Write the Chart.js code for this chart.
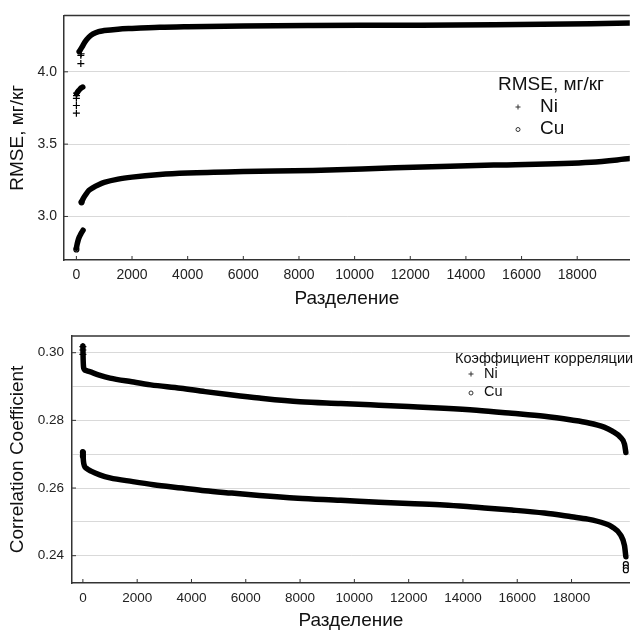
<!DOCTYPE html>
<html>
<head>
<meta charset="utf-8">
<script src="https://cdn.jsdelivr.net/npm/chart.js@4.4.1/dist/chart.umd.min.js"></script>
<style>
  html, body { margin: 0; padding: 0; background: #fff; }
  .panel { position: absolute; left: 0; width: 635px; }
</style>
</head>
<body>
<div class="panel" style="top:0;height:310px"><canvas id="rmseChart" width="635" height="310"></canvas></div>
<div class="panel" style="top:310px;height:323px"><canvas id="corrChart" width="635" height="323"></canvas></div>
<script>
// tick labels
const splitTicks = [0, 2000, 4000, 6000, 8000, 10000, 12000, 14000, 16000, 18000];
const rmseTicks = [3.0, 3.5, 4.0];
const corrTicks = [0.24, 0.25, 0.26, 0.27, 0.28, 0.29, 0.30];
const corrLabelled = [0.24, 0.26, 0.28, 0.30];

// RMSE, Ni
const niRmseLowX = [10, 40, 80, 130, 180, 230];
const niRmseLowY = [3.85, 3.86, 3.87, 3.88, 3.89, 3.895];
const niRmseX = [100, 200, 300, 450, 600, 800, 1000, 1500, 2000, 3000, 4000, 6000, 8500, 11450, 15000, 18500, 19900];
const niRmseY = [4.14, 4.17, 4.205, 4.24, 4.262, 4.278, 4.285, 4.295, 4.30, 4.308, 4.312, 4.317, 4.32, 4.322, 4.325, 4.332, 4.338];
const niRmseOutX = [0, 0, 0, 5, 5, 160, 160, 170];
const niRmseOutY = [3.714, 3.767, 3.817, 3.836, 3.852, 4.057, 4.114, 4.125];

// RMSE, Cu
const cuRmseLowX = [0, 30, 70, 110, 150, 190, 240];
const cuRmseLowY = [2.78, 2.81, 2.84, 2.86, 2.875, 2.89, 2.905];
const cuRmseX = [185, 250, 350, 450, 600, 800, 1000, 1500, 2000, 3000, 4000, 6000, 8500, 11450, 15000, 18500, 19900];
const cuRmseY = [3.10, 3.125, 3.155, 3.18, 3.20, 3.22, 3.235, 3.258, 3.272, 3.29, 3.30, 3.31, 3.318, 3.336, 3.355, 3.375, 3.40];
const cuRmseOutX = [0, 185];
const cuRmseOutY = [2.772, 3.098];

// correlation, Ni
const niCorrX = [0, 10, 30, 100, 250, 600, 1000, 1800, 2500, 3600, 4500, 5500, 6500, 8000, 9500, 10900, 12000, 13300, 14500, 15800, 17000, 18000, 18600, 19200, 19500, 19800, 19950, 20000];
const niCorrY = [0.302, 0.298, 0.2955, 0.2948, 0.2944, 0.2934, 0.2925, 0.2914, 0.2905, 0.2895, 0.2885, 0.2875, 0.2866, 0.2855, 0.285, 0.2845, 0.2841, 0.2836, 0.283, 0.2821, 0.2812, 0.2801, 0.2793, 0.278, 0.2768, 0.275, 0.273, 0.2705];
const niCorrOutX = [0, 0, 0];
const niCorrOutY = [0.3018, 0.3008, 0.2995];

// correlation, Cu
const cuCorrX = [0, 20, 60, 135, 300, 620, 1000, 1840, 2600, 3660, 4500, 5490, 6500, 7920, 9500, 10900, 12000, 13300, 14500, 15800, 17000, 18000, 18600, 19200, 19500, 19800, 19950, 20000];
const cuCorrY = [0.2707, 0.268, 0.2665, 0.2658, 0.265, 0.2639, 0.263, 0.2619, 0.261, 0.260, 0.2592, 0.2585, 0.2578, 0.257, 0.2564, 0.2558, 0.2554, 0.255, 0.2543, 0.2535, 0.2526, 0.2515, 0.2508, 0.2496, 0.2485, 0.2462, 0.243, 0.2397];
const cuCorrOutX = [0, 0, 20000, 20000, 20000];
const cuCorrOutY = [0.2705, 0.2695, 0.2375, 0.2365, 0.2357];

const FONT = '"Liberation Sans", Arial, sans-serif';
const pts = (xs, ys) => xs.map((x, i) => ({ x: x, y: ys[i] }));

const curve = (xs, ys) => ({
  data: pts(xs, ys),
  showLine: true,
  borderColor: '#000',
  borderWidth: 5.5,
  pointRadius: 0,
  cubicInterpolationMode: 'monotone',
  borderCapStyle: 'round',
  borderJoinStyle: 'round',
});

const marks = (xs, ys, style) => ({
  data: pts(xs, ys),
  showLine: false,
  pointStyle: style,
  pointRadius: style === 'cross' ? 3.5 : 2.5,
  borderColor: '#000',
  backgroundColor: '#fff',
  borderWidth: 1.2,
});

// top frame line, inward tick marks and the floating legend
const framePlugin = {
  id: 'frameLegend',
  afterDatasetsDraw(chart, args, opts) {
    const { ctx, chartArea: a, scales } = chart;
    ctx.save();
    ctx.strokeStyle = '#333';
    ctx.lineWidth = 1.5;
    ctx.beginPath();
    ctx.moveTo(a.left, a.top);
    ctx.lineTo(a.right, a.top);
    ctx.stroke();

    ctx.lineWidth = 1;
    ctx.beginPath();
    scales.x.ticks.forEach(t => {
      const px = scales.x.getPixelForValue(t.value);
      ctx.moveTo(px, a.bottom);
      ctx.lineTo(px, a.bottom - 4);
    });
    scales.y.ticks.forEach(t => {
      if (!t.label) return;
      const py = scales.y.getPixelForValue(t.value);
      ctx.moveTo(a.left, py);
      ctx.lineTo(a.left + 4, py);
    });
    ctx.stroke();

    // legend
    ctx.fillStyle = '#111';
    ctx.textBaseline = 'middle';
    ctx.textAlign = 'left';
    ctx.font = opts.titleSize + 'px ' + FONT;
    ctx.fillText(opts.title, opts.titleX, opts.titleY);
    ctx.font = opts.itemSize + 'px ' + FONT;
    opts.items.forEach((name, i) => {
      const y = opts.itemY + i * opts.itemGap;
      ctx.fillText(name, opts.textX, y);
      ctx.beginPath();
      ctx.lineWidth = 1;
      if (i === 0) {
        ctx.moveTo(opts.markX - 2.5, y); ctx.lineTo(opts.markX + 2.5, y);
        ctx.moveTo(opts.markX, y - 2.5); ctx.lineTo(opts.markX, y + 2.5);
      } else {
        ctx.arc(opts.markX, y + 1, 2, 0, Math.PI * 2);
      }
      ctx.stroke();
    });
    ctx.restore();
  }
};

function makeChart(id, cfg) {
  return new Chart(document.getElementById(id), {
    type: 'scatter',
    data: { datasets: cfg.datasets },
    plugins: [framePlugin],
    options: {
      responsive: false,
      animation: false,
      layout: { padding: { top: cfg.padTop, left: 0, right: 0, bottom: 0 } },
      plugins: {
        legend: { display: false },
        tooltip: { enabled: false },
        frameLegend: cfg.legend,
      },
      scales: {
        x: {
          type: 'linear',
          min: cfg.xMin,
          max: cfg.xMax,
          afterBuildTicks: s => { s.ticks = splitTicks.map(v => ({ value: v })); },
          afterFit: s => { s.height = 50; },
          grid: { display: true, drawOnChartArea: false, drawTicks: false },
          border: { display: true, color: '#333', width: 1.5 },
          ticks: { color: '#222', font: { family: FONT, size: cfg.tickSize }, padding: 7, maxRotation: 0, autoSkip: false, callback: v => String(v) },
          title: { display: true, text: 'Разделение', color: '#111', font: { family: FONT, size: 19 }, padding: { top: 0, bottom: cfg.xTitlePad } },
        },
        y: {
          type: 'linear',
          min: cfg.yMin,
          max: cfg.yMax,
          afterBuildTicks: s => { s.ticks = cfg.yTicks.map(v => ({ value: v })); },
          afterFit: s => { s.width = cfg.yWidth; },
          grid: { color: '#d9d9d9', lineWidth: 1, drawTicks: false },
          border: { display: true, color: '#333', width: 1.5 },
          ticks: { color: '#222', font: { family: FONT, size: cfg.tickSize }, padding: cfg.yTickPad, callback: cfg.yLabel },
          title: { display: true, text: cfg.yTitle, color: '#111', font: { family: FONT, size: 19 }, padding: { top: 6, bottom: 0 } },
        },
      },
    },
  });
}

makeChart('rmseChart', {
  datasets: [
    curve(niRmseLowX, niRmseLowY),
    curve(niRmseX, niRmseY),
    marks(niRmseOutX, niRmseOutY, 'cross'),
    curve(cuRmseLowX, cuRmseLowY),
    curve(cuRmseX, cuRmseY),
    marks(cuRmseOutX, cuRmseOutY, 'circle'),
  ],
  padTop: 13,
  xMin: -445, xMax: 19890,
  yMin: 2.699, yMax: 4.39,
  yTicks: rmseTicks,
  yLabel: v => v.toFixed(1),
  yWidth: 64,
  yTickPad: 7,
  tickSize: 14,
  xTitlePad: 0,
  yTitle: 'RMSE, мг/кг',
  legend: {
    title: 'RMSE, мг/кг', titleSize: 19, titleX: 498, titleY: 85,
    items: ['Ni', 'Cu'], itemSize: 19, itemY: 107, itemGap: 21.5,
    markX: 518, textX: 540,
  },
});

makeChart('corrChart', {
  datasets: [
    curve(niCorrX, niCorrY),
    marks(niCorrOutX, niCorrOutY, 'cross'),
    curve(cuCorrX, cuCorrY),
    marks(cuCorrOutX, cuCorrOutY, 'circle'),
  ],
  padTop: 26,
  xMin: -401, xMax: 20146,
  yMin: 0.23193, yMax: 0.30494,
  yTicks: corrTicks,
  yLabel: v => corrLabelled.some(c => Math.abs(c - v) < 1e-6) ? v.toFixed(2) : '',
  yWidth: 72,
  yTickPad: 8,
  tickSize: 13.5,
  xTitlePad: 1,
  yTitle: 'Correlation Coefficient',
  legend: {
    title: 'Коэффициент корреляции', titleSize: 14.5, titleX: 455, titleY: 49,
    items: ['Ni', 'Cu'], itemSize: 14.5, itemY: 64, itemGap: 18,
    markX: 471, textX: 484,
  },
});
</script>
</body>
</html>
